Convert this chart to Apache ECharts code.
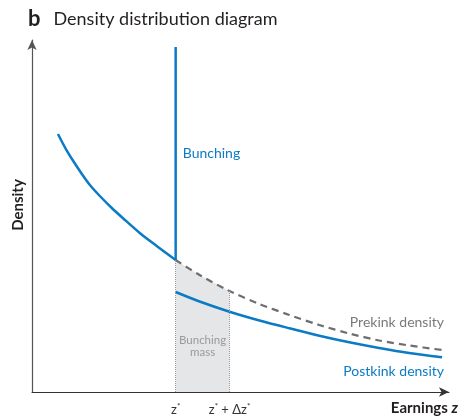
<!DOCTYPE html>
<html>
<head>
<meta charset="utf-8">
<title>Density distribution diagram</title>
<script src="https://cdn.jsdelivr.net/npm/echarts@6/dist/echarts.min.js"></script>
<style>
  html, body { margin: 0; padding: 0; background: #fff; }
  #chart { width: 461px; height: 418px; }
</style>
</head>
<body>
<div id="chart"></div>
<script>
// Kink location and end of the bunching window (earnings units)
const zStar = 34.45;
const zStarEnd = 47.37;
const bunchingTop = 98;

// Density below the kink (same for both regimes)
const lowerDensity = [
  [6.22, 73.30], [8.13, 69.03], [10.05, 65.34], [11.96, 61.93], [13.88, 58.81],
  [16.27, 55.68], [19.14, 52.27], [21.77, 49.43], [25.84, 45.17], [29.90, 41.48],
  [34.45, 37.50]
];
// Counterfactual density above the kink
const prekinkDensity = [
  [34.45, 37.50], [40.19, 33.24], [47.37, 28.69], [54.55, 25.00], [61.72, 21.88],
  [68.90, 19.03], [76.08, 16.62], [83.25, 14.63], [90.43, 13.21], [98.33, 11.93]
];
// Observed density above the kink
const postkinkDensity = [
  [34.45, 28.41], [40.19, 25.71], [47.37, 22.81], [54.55, 20.31], [61.72, 18.10],
  [68.90, 15.99], [76.08, 14.12], [83.25, 12.50], [90.43, 11.08], [98.33, 9.86]
];
// Tick labels at the kink and at the end of the bunching window
const tickValues = [zStar, zStarEnd];
const tickLabels = ['{z|z}{s|*}', '{z|z}{s|*}{z| + Δz}{s|*}'];

const FONT = 'Lato';
const BLUE = '#0a7bc4';
const GREY = '#6e6e70';
const INK = '#231f20';

// Shaded bunching mass: counterfactual density between z* and z* + Δz*
const massArea = prekinkDensity.filter(p => p[0] >= zStar && p[0] <= zStarEnd);
const massTop = massArea[massArea.length - 1][1];

const chart = echarts.init(document.getElementById('chart'), null, { renderer: 'canvas' });

chart.setOption({
  animation: false,
  textStyle: { fontFamily: FONT },
  title: {
    left: 23, top: 3,
    text: '{b|b}{t|Density distribution diagram}',
    textStyle: {
      fontWeight: 'normal',
      rich: {
        b: { fontFamily: FONT, fontWeight: 'bold', fontSize: 22, color: INK, padding: [0, 13, 0, 0] },
        t: { fontFamily: FONT, fontWeight: 'normal', fontSize: 18, color: INK }
      }
    }
  },
  graphic: [{
    type: 'text',
    x: 18, y: 205,
    rotation: Math.PI / 2,
    style: {
      text: 'Density', fontFamily: FONT, fontWeight: 'bold', fontSize: 15, fill: INK,
      align: 'center', verticalAlign: 'middle'
    }
  }],
  grid: { left: 32, right: 11, top: 40, bottom: 26 },
  xAxis: {
    type: 'value', min: 0, max: 100,
    splitLine: { show: false },
    axisTick: { show: false },
    axisLine: {
      onZero: false,
      lineStyle: { color: '#333', width: 1 },
      symbol: ['none', 'arrow'], symbolSize: [7, 10]
    },
    axisLabel: {
      customValues: tickValues,
      formatter: (v) => tickLabels[tickValues.indexOf(v)] || '',
      margin: 10,
      rich: {
        z: { fontFamily: FONT, fontSize: 13, color: '#333' },
        s: { fontFamily: FONT, fontSize: 8, color: '#333', padding: [0, 0, 7, 0] }
      }
    },
    name: 'Earnings {i|z}',
    nameLocation: 'end',
    nameGap: 9,
    nameTextStyle: {
      fontFamily: FONT, fontWeight: 'bold', fontSize: 15, color: INK,
      align: 'right', verticalAlign: 'top', padding: [9, 0, 0, 0],
      rich: { i: { fontFamily: FONT, fontWeight: 'bold', fontStyle: 'italic', fontSize: 15, color: INK } }
    }
  },
  yAxis: {
    type: 'value', min: 0, max: 100,
    splitLine: { show: false },
    axisTick: { show: false },
    axisLabel: { show: false },
    axisLine: {
      lineStyle: { color: '#555', width: 1.2 },
      symbol: ['none', 'arrow'], symbolSize: [7, 10]
    }
  },
  series: [
    {
      name: 'Bunching mass',
      type: 'line',
      data: massArea,
      symbol: 'none',
      lineStyle: { width: 0 },
      areaStyle: { color: '#e5e6e8', opacity: 1 },
      smooth: 0.3,
      z: 1,
      markLine: {
        silent: true,
        symbol: 'none',
        label: { show: false },
        lineStyle: { color: '#9a9a9c', width: 1, type: 'dotted' },
        data: [
          [{ coord: [zStar, 0] }, { coord: [zStar, massArea[0][1]] }],
          [{ coord: [zStarEnd, 0] }, { coord: [zStarEnd, massTop] }]
        ]
      },
      markPoint: {
        symbol: 'circle', symbolSize: 0,
        label: {
          show: true, formatter: 'Bunching\nmass',
          fontFamily: FONT, fontSize: 11.5, lineHeight: 12, color: '#9a9a9c', align: 'center'
        },
        data: [{ coord: [(zStar + zStarEnd) / 2, 13] }]
      }
    },
    {
      name: 'Prekink density',
      type: 'line',
      data: prekinkDensity,
      symbol: 'none',
      smooth: 0.3,
      lineStyle: { color: GREY, width: 2.2, type: [7, 5] },
      z: 2,
      markPoint: {
        symbol: 'circle', symbolSize: 0,
        label: {
          show: true, formatter: 'Prekink density', position: 'left',
          fontFamily: FONT, fontSize: 14, color: '#7a7a7c', distance: 0
        },
        data: [{ coord: [98.8, 19.7] }]
      }
    },
    {
      name: 'Lower density',
      type: 'line',
      data: lowerDensity,
      symbol: 'none',
      smooth: 0.3,
      lineStyle: { color: BLUE, width: 2.5 },
      z: 3
    },
    {
      name: 'Bunching',
      type: 'line',
      data: [[zStar, lowerDensity[lowerDensity.length - 1][1]], [zStar, bunchingTop]],
      symbol: 'none',
      lineStyle: { color: BLUE, width: 2.5 },
      z: 3,
      markPoint: {
        symbol: 'circle', symbolSize: 0,
        label: {
          show: true, formatter: 'Bunching', position: 'right',
          fontFamily: FONT, fontSize: 14, color: BLUE, distance: 0
        },
        data: [{ coord: [zStar + 1.7, 67.9] }]
      }
    },
    {
      name: 'Postkink density',
      type: 'line',
      data: postkinkDensity,
      symbol: 'none',
      smooth: 0.3,
      lineStyle: { color: BLUE, width: 2.5 },
      z: 3,
      markPoint: {
        symbol: 'circle', symbolSize: 0,
        label: {
          show: true, formatter: 'Postkink density', position: 'left',
          fontFamily: FONT, fontSize: 14, color: BLUE, distance: 0
        },
        data: [{ coord: [98.8, 5.7] }]
      }
    }
  ]
});
</script>
</body>
</html>
